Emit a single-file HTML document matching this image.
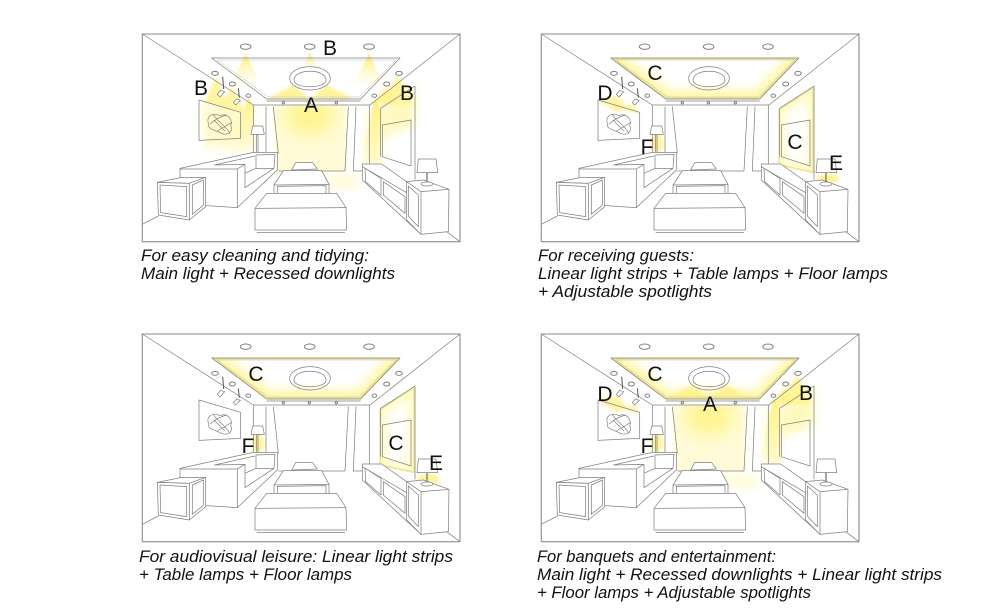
<!DOCTYPE html>
<html><head><meta charset="utf-8"><style>
html,body{margin:0;padding:0;background:#fff;width:1000px;height:613px;overflow:hidden}
svg{display:block}
.t{font-family:"Liberation Sans",sans-serif;font-style:italic;font-size:16.5px;fill:#111}
.l{font-family:"Liberation Sans",sans-serif;font-size:21px;fill:#111;text-anchor:middle}
</style></head><body>
<svg width="1000" height="613" viewBox="0 0 1000 613" xmlns="http://www.w3.org/2000/svg">
<defs>
<filter id="b4" x="-50%" y="-50%" width="200%" height="200%"><feGaussianBlur stdDeviation="5"/></filter>
<filter id="b12" x="-50%" y="-50%" width="200%" height="200%"><feGaussianBlur stdDeviation="14"/></filter>
<filter id="b30" x="-50%" y="-50%" width="200%" height="200%"><feGaussianBlur stdDeviation="26"/></filter>
<linearGradient id="down" x1="0" y1="0" x2="0" y2="1"><stop offset="0" stop-color="#fff06a"/><stop offset=".5" stop-color="#fff59c" stop-opacity=".55"/><stop offset="1" stop-color="#fff9c8" stop-opacity="0"/></linearGradient>
<clipPath id="trayC"><polygon points="245,99 810,99 692,222 410,222"/></clipPath>
<clipPath id="tvC"><polygon points="748,252 855,183 855,445 748,422"/></clipPath>
<clipPath id="backC"><rect x="372" y="242" width="346" height="196"/></clipPath>

<g id="room" fill="none" stroke="#808080" stroke-width="2.2" stroke-linejoin="round">
  <rect x="37" y="27" width="953" height="623" stroke="#a0a0a0" stroke-width="4"/>
  <path d="M37 27L370 240M990 27L720 240M37 598L85 573M950 620L990 650"/>
  <polygon points="245,99 810,99 692,222 410,222"/>
  <path d="M262 105L797 105M262 105L415 216M797 105L688 216M415 216L688 216" stroke="#bbb" stroke-width="1.5"/>
  <path d="M370 240L720 240M410 228L692 228"/>
  <g stroke-width="3" fill="#fff">
    <ellipse cx="347" cy="65" rx="16" ry="8"/><ellipse cx="539" cy="65" rx="16" ry="8"/><ellipse cx="717" cy="65" rx="16" ry="8"/>
    <ellipse cx="255" cy="145" rx="10" ry="6"/><ellipse cx="307" cy="177" rx="9" ry="6"/><ellipse cx="355" cy="212" rx="7" ry="5"/>
    <ellipse cx="807" cy="145" rx="10" ry="6"/><ellipse cx="770" cy="177" rx="9" ry="6"/><ellipse cx="733" cy="212" rx="7" ry="5"/>
    <circle cx="460" cy="233" r="3.5"/><circle cx="538" cy="233" r="3.5"/><circle cx="619" cy="233" r="3.5"/>
  </g>
  <ellipse cx="540" cy="160" rx="61" ry="35"/>
  <path d="M492 165C492 130 588 130 588 165C588 192 492 192 492 165Z"/>
  <path d="M278 155L281 192M325 190L328 218" stroke="#555" stroke-width="3"/>
  <polygon points="262,208 272,196 284,200 270,216" fill="#fff"/>
  <polygon points="310,232 320,222 331,226 317,240" fill="#fff"/>
  <polygon points="207,225 332,262 332,340 207,346"/>
  <path d="M235 295C228 270 252 262 270 272C292 262 310 285 302 302C312 322 290 335 268 322C248 312 232 312 235 295ZM250 268C262 290 285 300 300 325M240 298C252 285 272 275 290 270M262 318L306 292M252 285C265 298 275 310 285 318" stroke-width="2"/>
  <path d="M370 240L370 382M408 245L408 382M430 245L445 385M655 245L645 438M678 245L670 438M718 240L718 420"/>
  <polygon points="368,303 398,303 403,328 363,328" fill="#fff"/>
  <path d="M379 328L379 382M384 328L384 382"/>
  <path d="M752 250L855 183L855 463M752 250L752 395M445 438L645 438M670 438L700 438"/>
  <polygon points="757,300 843,285 843,423 757,395"/>
  <g fill="#fff">
    <polygon points="150,430 370,382 442,382 442,435 322,548 230,542 150,520"/>
    <path d="M150 432L322 432M253 420L375 393M253 420L345 418L322 432M322 432L322 548M345 418L345 488L432 430L378 430L378 390L435 388L432 430M345 445L378 430" fill="none"/>
    <polygon points="82,472 152,458 227,457 178,475"/>
    <polygon points="82,472 178,475 178,585 85,570"/>
    <polygon points="178,475 227,457 227,545 178,585"/>
    <polygon points="90,480 170,485 170,575 92,563"/>
    <polygon points="187,480 220,465 220,541 187,568"/>
    <polygon points="485,435 497,413 548,413 562,432"/>
    <polygon points="432,480 460,437 575,437 597,478 597,505 432,505"/>
    <path d="M432 480L597 478M442 505L442 484L588 482L588 505" fill="none"/>
    <polygon points="375,550 410,505 620,505 648,548 650,615 375,615"/>
    <path d="M375 550L648 548M380 622L645 622" fill="none"/>
    <polygon points="697,417 755,417 830,470 873,628 870,625 697,465"/>
    <path d="M697 425L830 503M705 430L753 460L753 510L707 470ZM760 470L825 515L825 565L760 510Z" fill="none"/>
    <polygon points="830,470 880,465 957,493 955,620 873,628 830,585"/>
    <path d="M830 470L873 500L957 493M873 500L873 628M835 483L865 510L865 605L835 573Z" fill="none"/>
    <polygon points="865,402 918,402 923,443 861,443"/>
    <path d="M889 443L889 470M893 443L893 470" fill="none"/>
    <ellipse cx="891" cy="477" rx="18" ry="6"/>
  </g>
</g>

<g id="gMain">
  <g clip-path="url(#backC)">
    <rect x="432" y="235" width="216" height="215" fill="#fffbd8" filter="url(#b4)"/>
    <ellipse cx="540" cy="275" rx="75" ry="55" fill="#fff48e" filter="url(#b30)"/>
  </g>
  <polygon points="445,445 680,445 690,490 440,490" fill="#fffcdc" filter="url(#b12)"/>
  <polygon points="490,180 410,222 540,222" fill="#fff28a" opacity=".85" filter="url(#b4)"/>
  <polygon points="590,180 540,222 670,222" fill="#fff28a" opacity=".85" filter="url(#b4)"/>
</g>
<g id="gRightB">
  <polygon points="805,150 750,235 850,240" fill="#fff28a" opacity=".85" filter="url(#b4)"/>
  <polygon points="770,182 725,240 800,240" fill="#fff28a" opacity=".85" filter="url(#b4)"/>
  <polygon points="735,218 690,420 752,420 752,255" fill="url(#down)"/>
  <polygon points="752,250 855,183 855,300 752,340" fill="#fff59c" opacity=".65" filter="url(#b12)"/>
  <polygon points="720,245 752,250 752,420 705,420" fill="#fff48c" opacity=".6" filter="url(#b12)"/>
</g>
<g id="gStrip">
  <g clip-path="url(#trayC)">
    <path d="M245 99L410 222L692 222L810 99" fill="none" stroke="#fff7ad" stroke-width="56" filter="url(#b12)"/>
    <path d="M245 99L410 222L692 222L810 99" fill="none" stroke="#fff5a0" stroke-width="14" filter="url(#b4)"/>
    <polygon points="245,99 810,99 692,222 410,222" fill="none" stroke="#ece38a" stroke-width="10"/>
  </g>
</g>
<g id="gTV">
  <g clip-path="url(#tvC)">
    <polygon points="748,252 855,183 855,445 748,422" fill="none" stroke="#fff9bd" stroke-width="36" filter="url(#b12)"/>
    <polygon points="748,252 855,183 855,445 748,422" fill="none" stroke="#eee68e" stroke-width="10"/>
  </g>
</g>
<g id="gFloorOnly">
  <ellipse cx="385" cy="355" rx="18" ry="28" fill="#fff07a" opacity=".75" filter="url(#b4)"/>
</g>
<g id="gLamps">
  <use href="#gFloorOnly"/>
  <ellipse cx="896" cy="462" rx="34" ry="14" fill="#fff07a" opacity=".8" filter="url(#b4)"/>
</g>
<g id="gSpot">
  <polygon points="262,212 207,226 265,262 295,245" fill="#fff07a" opacity=".7" filter="url(#b4)"/>
  <polygon points="315,238 270,250 332,268" fill="#fff07a" opacity=".6" filter="url(#b4)"/>
</g>
<g id="gB1">
  <polygon points="347,85 300,185 395,185" fill="url(#down)"/>
  <polygon points="539,85 510,135 570,135" fill="url(#down)"/>
  <polygon points="717,85 665,190 765,190" fill="url(#down)"/>
  <polygon points="258,155 222,235 300,250" fill="#fff28a" opacity=".8" filter="url(#b4)"/>
  <polygon points="307,185 270,250 350,265" fill="#fff28a" opacity=".8" filter="url(#b4)"/>
  <polygon points="355,218 320,320 372,375 372,250" fill="url(#down)"/>
  <polygon points="215,240 370,260 370,380 225,365" fill="#fff59c" opacity=".55" filter="url(#b12)"/>
</g>
</defs>

<!-- Panel 1 -->
<g transform="translate(130,25) scale(.33333)">
  <use href="#gMain"/><use href="#gB1"/><use href="#gRightB"/><use href="#room"/>
</g>
<!-- Panel 2 -->
<g transform="translate(529,25) scale(.33333)">
  <use href="#gStrip"/><use href="#gTV"/><use href="#gLamps"/><use href="#gSpot"/><use href="#room"/>
</g>
<!-- Panel 3 -->
<g transform="translate(130,325) scale(.33333)">
  <use href="#gStrip"/><use href="#gTV"/><use href="#gLamps"/><use href="#room"/>
</g>
<!-- Panel 4 -->
<g transform="translate(529,325) scale(.33333)">
  <use href="#gStrip"/><use href="#gMain"/><use href="#gRightB"/><use href="#gFloorOnly"/><use href="#gSpot"/><use href="#room"/>
</g>

<g>
<text class="l" x="330" y="55">B</text><text class="l" x="311" y="112">A</text><text class="l" x="201" y="95">B</text><text class="l" x="407" y="100">B</text>
<text class="l" x="655" y="80">C</text><text class="l" x="605" y="100">D</text><text class="l" x="647" y="154">F</text><text class="l" x="795" y="149">C</text><text class="l" x="836" y="170">E</text>
<text class="l" x="256" y="381">C</text><text class="l" x="248" y="453">F</text><text class="l" x="396" y="450">C</text><text class="l" x="436" y="470">E</text>
<text class="l" x="655" y="381">C</text><text class="l" x="605" y="401">D</text><text class="l" x="710" y="411">A</text><text class="l" x="806" y="400">B</text><text class="l" x="647" y="453">F</text>
</g>
<g>
<text class="t" x="141" y="261" textLength="228" lengthAdjust="spacingAndGlyphs">For easy cleaning and tidying:</text>
<text class="t" x="141" y="279" textLength="254" lengthAdjust="spacingAndGlyphs">Main light + Recessed downlights</text>
<text class="t" x="538" y="261" textLength="156" lengthAdjust="spacingAndGlyphs">For receiving guests:</text>
<text class="t" x="538" y="279" textLength="350" lengthAdjust="spacingAndGlyphs">Linear light strips + Table lamps + Floor lamps</text>
<text class="t" x="538" y="297" textLength="174" lengthAdjust="spacingAndGlyphs">+ Adjustable spotlights</text>
<text class="t" x="139" y="562" textLength="314" lengthAdjust="spacingAndGlyphs">For audiovisual leisure: Linear light strips</text>
<text class="t" x="139" y="580" textLength="213" lengthAdjust="spacingAndGlyphs">+ Table lamps + Floor lamps</text>
<text class="t" x="537" y="562" textLength="239" lengthAdjust="spacingAndGlyphs">For banquets and entertainment:</text>
<text class="t" x="537" y="580" textLength="405" lengthAdjust="spacingAndGlyphs">Main light + Recessed downlights + Linear light strips</text>
<text class="t" x="537" y="598" textLength="274" lengthAdjust="spacingAndGlyphs">+ Floor lamps + Adjustable spotlights</text>
</g>
</svg>
</body></html>
